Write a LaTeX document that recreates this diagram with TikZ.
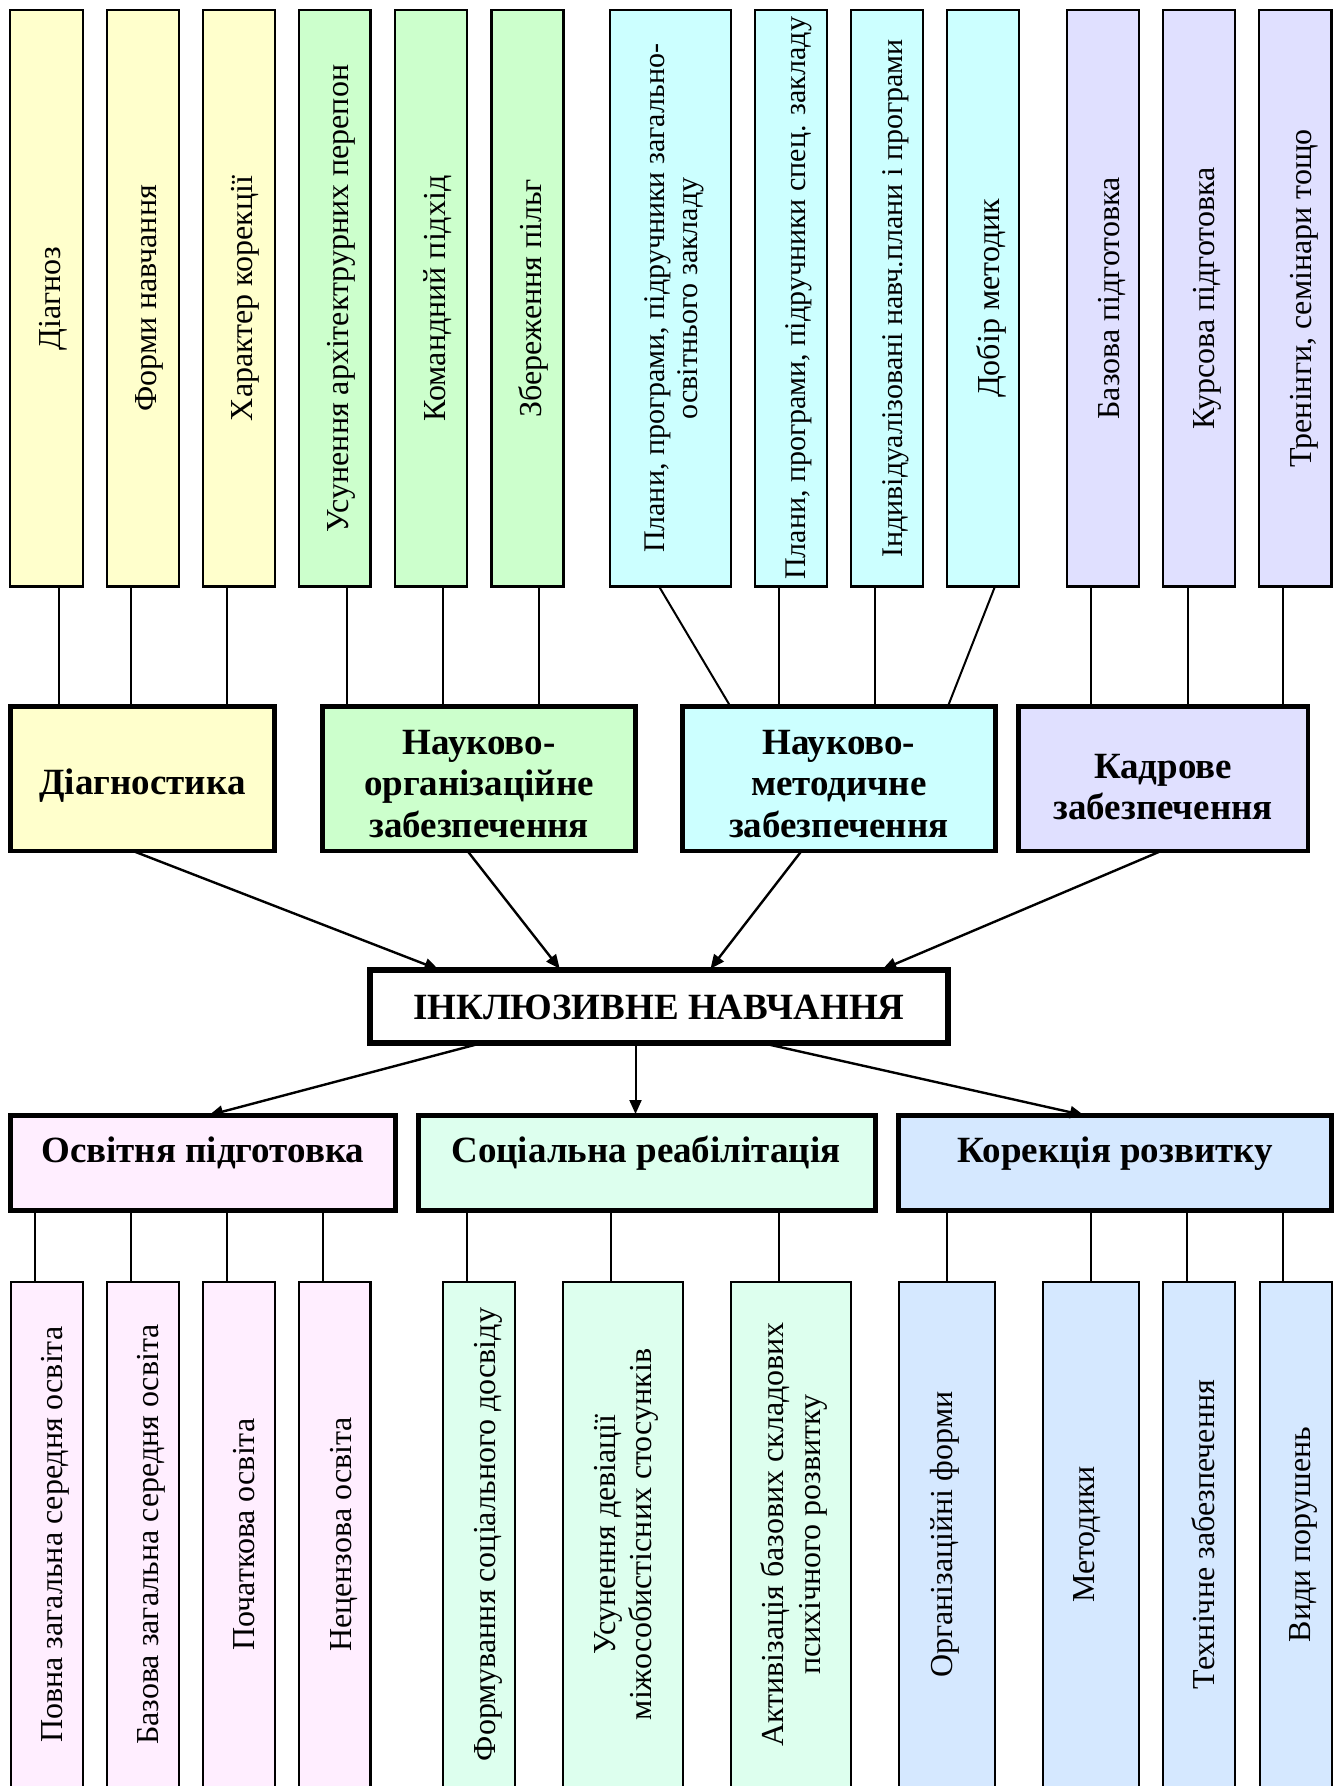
\documentclass[tikz,border=0pt]{standalone}
\usepackage{fontspec}
\setmainfont{Liberation Serif}
\usetikzlibrary{arrows.meta}
\definecolor{cYel}{HTML}{FFFFCC}
\definecolor{cGrn}{HTML}{CCFFCC}
\definecolor{cCyn}{HTML}{CCFFFF}
\definecolor{cLav}{HTML}{E0E0FF}
\definecolor{cPnk}{HTML}{FFEEFF}
\definecolor{cMnt}{HTML}{DDFFEE}
\definecolor{cBlu}{HTML}{D5E8FF}
\begin{document}
\begin{tikzpicture}[x=0.5pt,y=-0.5pt,
  thinbox/.style={draw=black, line width=1.1pt, inner sep=0pt, outer sep=0pt},
  topbox/.style={thinbox, minimum height=288pt},
  lowbox/.style={thinbox, minimum height=254.9pt},
  midbox/.style={draw=black, line width=2.4pt, inner sep=0pt, outer sep=0pt, minimum height=72.2pt},
  rowbox/.style={draw=black, line width=2.4pt, inner sep=0pt, outer sep=0pt, minimum height=47.4pt},
  vtxt/.style={rotate=90, inner sep=0pt, font=\fontsize{16}{18.3}\selectfont},
  vtxtb/.style={vtxt, anchor=base},
  vtxtc/.style={vtxt, anchor=center, align=center},
  vsmall/.style={font=\fontsize{15}{16.5}\selectfont},
  htxt/.style={inner sep=0pt, align=center, font=\fontsize{18.5}{20.85}\selectfont\bfseries},
  conn/.style={line width=1pt},
  arrw/.style={line width=1.2pt, shorten >=0.8pt, -{Triangle[length=7pt,width=6pt]}},
]
\fill[white] (0,0) rectangle (1337,1786);
\clip (0,0) rectangle (1337,1786);

% ---------- top row ----------
\node[topbox, fill=cYel, minimum width=36.15pt] (b1) at (46.5,298.4) {};
\node[topbox, fill=cYel, minimum width=36pt] (b2) at (142.7,298.4) {};
\node[topbox, fill=cYel, minimum width=36.15pt] (b3) at (238.9,298.4) {};
\node[topbox, fill=cGrn, minimum width=35.8pt] (b4) at (334.7,298.4) {};
\node[topbox, fill=cGrn, minimum width=36.15pt] (b5) at (431.1,298.4) {};
\node[topbox, fill=cGrn, minimum width=36pt] (b6) at (527.4,298.4) {};
\node[topbox, fill=cCyn, minimum width=60.4pt] (b7) at (670.7,298.4) {};
\node[topbox, fill=cCyn, minimum width=36.1pt] (b8) at (790.7,298.4) {};
\node[topbox, fill=cCyn, minimum width=36.2pt] (b9) at (887,298.4) {};
\node[topbox, fill=cCyn, minimum width=36.05pt] (b10) at (983,298.4) {};
\node[topbox, fill=cLav, minimum width=36.2pt] (b11) at (1103,298.4) {};
\node[topbox, fill=cLav, minimum width=36.2pt] (b12) at (1199,298.4) {};
\node[topbox, fill=cLav, minimum width=36.15pt] (b13) at (1295.3,298.4) {};

\node[vtxtb] (t1) at (60.5,298.4) {Діагноз};
\node[vtxtb] (t2) at (156.7,298.4) {Форми навчання};
\node[vtxtb] (t3) at (252.9,298.4) {Характер корекції};
\node[vtxtb] (t4) at (348.7,298.4) {Усунення архітектрурних перепон};
\node[vtxtb] (t5) at (445.1,298.4) {Командний підхід};
\node[vtxtb] (t6) at (541.4,298.4) {Збереження пільг};
\node[vtxtc, vsmall] (t7) at (674,298.4) {Плани, програми, підручники загально-\\освітнього закладу};
\node[vtxtb, vsmall] (t8) at (805.5,298.4) {Плани, програми, підручники спец. закладу};
\node[vtxtb, vsmall] (t9) at (902,298.4) {Індивідуалізовані навч.плани і програми};
\node[vtxtb] (t10) at (999,298.4) {Добір методик};
\node[vtxtb] (t11) at (1119,298.4) {Базова підготовка};
\node[vtxtb] (t12) at (1214,298.4) {Курсова підготовка};
\node[vtxtb] (t13) at (1311,298.4) {Тренінги, семінари тощо};

% ---------- middle row ----------
\node[midbox, fill=cYel, minimum width=132.25pt] (d) at (142.5,778.8) {};
\node[midbox, fill=cGrn, minimum width=156.5pt] (no) at (479,778.8) {};
\node[midbox, fill=cCyn, minimum width=156.4pt] (nm) at (838.8,778.8) {};
\node[midbox, fill=cLav, minimum width=144.85pt] (kd) at (1163.1,778.8) {};
\node[htxt, anchor=base] (td) at (142.5,794.2) {Діагностика};
\node[htxt] (tno) at (479,783.9) {Науково-\\організаційне\\забезпечення};
\node[htxt] (tnm) at (838.8,783.9) {Науково-\\методичне\\забезпечення};
\node[htxt] (tkd) at (1163.1,787.1) {Кадрове\\забезпечення};

% ---------- centre ----------
\node[draw=black, line width=3pt, fill=white, inner sep=0pt, outer sep=0pt,
      minimum width=288.9pt, minimum height=36.5pt] (c) at (658.9,1006.5) {};
\node[htxt, anchor=base] (tc) at (658.9,1019.4) {ІНКЛЮЗИВНЕ НАВЧАННЯ};

% ---------- second lower row ----------
\node[rowbox, fill=cPnk, minimum width=192.5pt] (os) at (202.8,1163) {};
\node[rowbox, fill=cMnt, minimum width=228.35pt] (so) at (647.2,1163) {};
\node[rowbox, fill=cBlu, minimum width=216.5pt] (ko) at (1115,1163) {};
\node[htxt, anchor=base] (tos) at (202.8,1162.5) {Освітня підготовка};
\node[htxt, anchor=base] (tso) at (646,1162.5) {Соціальна реабілітація};
\node[htxt, anchor=base] (tko) at (1115.3,1162.5) {Корекція розвитку};

% ---------- bottom row ----------
\node[lowbox, fill=cPnk, minimum width=36pt] (p1) at (46.6,1537.1) {};
\node[lowbox, fill=cPnk, minimum width=36pt] (p2) at (142.6,1537.1) {};
\node[lowbox, fill=cPnk, minimum width=36pt] (p3) at (238.6,1537.1) {};
\node[lowbox, fill=cPnk, minimum width=35.7pt] (p4) at (334.8,1537.1) {};
\node[lowbox, fill=cMnt, minimum width=35.7pt] (s1) at (479,1537.1) {};
\node[lowbox, fill=cMnt, minimum width=60pt] (s2) at (623,1537.1) {};
\node[lowbox, fill=cMnt, minimum width=60.3pt] (s3) at (791,1537.1) {};
\node[lowbox, fill=cBlu, minimum width=48.15pt] (k1) at (946.9,1537.1) {};
\node[lowbox, fill=cBlu, minimum width=48.2pt] (k2) at (1091,1537.1) {};
\node[lowbox, fill=cBlu, minimum width=36.2pt] (k3) at (1198.8,1537.1) {};
\node[lowbox, fill=cBlu, minimum width=36pt] (k4) at (1296.2,1537.1) {};

\node[vtxtb] (u1) at (62.5,1534.5) {Повна загальна середня освіта};
\node[vtxtb] (u2) at (158.5,1534.5) {Базова загальна середня освіта};
\node[vtxtb] (u3) at (254.5,1534.5) {Початкова освіта};
\node[vtxtb] (u4) at (351,1534.5) {Нецензова освіта};
\node[vtxtb] (u5) at (495.5,1534.5) {Формування соціального досвіду};
\node[vtxtc] (u6) at (626.4,1534.5) {Усунення девіації\\міжособистісних стосунків};
\node[vtxtc] (u7) at (794,1534.5) {Активізація базових складових\\психічного розвитку};
\node[vtxtb] (u8) at (952.3,1534.5) {Організаційні форми};
\node[vtxtb] (u9) at (1094.7,1534.5) {Методики};
\node[vtxtb] (u10) at (1214,1534.5) {Технічне забезпечення};
\node[vtxtb] (u11) at (1310.5,1534.5) {Види порушень};

% ---------- connectors top -> middle ----------
\coordinate (l1) at ([xshift=6pt]b1.south);
\coordinate (l2) at ([xshift=-6pt]b2.south);
\coordinate (l3) at ([xshift=-6pt]b3.south);
\coordinate (l4) at ([xshift=6pt]b4.south);
\coordinate (l5) at ([xshift=6pt]b5.south);
\coordinate (l6) at ([xshift=6pt]b6.south);
\coordinate (l8) at ([xshift=-5.7pt]b8.south);
\coordinate (l9) at ([xshift=-6pt]b9.south);
\coordinate (l11) at ([xshift=-5.8pt]b11.south);
\coordinate (l12) at ([xshift=-5.75pt]b12.south);
\coordinate (l13) at ([xshift=-6pt]b13.south);
\draw[conn] (l1) -- (l1 |- d.north);
\draw[conn] (l2) -- (l2 |- d.north);
\draw[conn] (l3) -- (l3 |- d.north);
\draw[conn] (l4) -- (l4 |- no.north);
\draw[conn] (l5) -- (l5 |- no.north);
\draw[conn] (l6) -- (l6 |- no.north);
\draw[conn] ([xshift=-5.85pt]b7.south) -- ([xshift=-54.15pt]nm.north);
\draw[conn] (l8) -- (l8 |- nm.north);
\draw[conn] (l9) -- (l9 |- nm.north);
\draw[conn] ([xshift=6pt]b10.south) -- ([xshift=54.5pt]nm.north);
\draw[conn] (l11) -- (l11 |- kd.north);
\draw[conn] (l12) -- (l12 |- kd.north);
\draw[conn] (l13) -- (l13 |- kd.north);

% ---------- arrows to / from centre ----------
\draw[arrw] ([xshift=-4.75pt]d.south) -- ([xshift=-109.5pt]c.north);
\draw[arrw] ([xshift=-5.75pt]no.south) -- ([xshift=-49.1pt]c.north);
\draw[arrw] ([xshift=-18.65pt]nm.south) -- ([xshift=25.3pt]c.north);
\draw[arrw] ([xshift=-1pt]kd.south) -- ([xshift=111pt]c.north);
\draw[arrw] ([xshift=-88.45pt]c.south) -- ([xshift=2.35pt]os.north);
\coordinate (v) at ([xshift=-5.85pt]so.north);
\draw[arrw, line width=1pt] (v |- c.south) -- (v);
\draw[arrw] ([xshift=51.5pt]c.south) -- ([xshift=-14.75pt]ko.north);

% ---------- connectors lower row -> bottom ----------
\coordinate (q1) at ([xshift=-6pt]p1.north);
\coordinate (q2) at ([xshift=-6pt]p2.north);
\coordinate (q3) at ([xshift=-6pt]p3.north);
\coordinate (q4) at ([xshift=-6pt]p4.north);
\coordinate (q5) at ([xshift=-6pt]s1.north);
\coordinate (q6) at ([xshift=-6pt]s2.north);
\coordinate (q7) at ([xshift=-5.85pt]s3.north);
\coordinate (q8) at (k1.north);
\coordinate (q9) at (k2.north);
\coordinate (q10) at ([xshift=-5.7pt]k3.north);
\coordinate (q11) at ([xshift=-6.5pt]k4.north);
\foreach \q in {q1,q2,q3,q4} \draw[conn] (\q) -- (\q |- os.south);
\foreach \q in {q5,q6,q7} \draw[conn] (\q) -- (\q |- so.south);
\foreach \q in {q8,q9,q10,q11} \draw[conn] (\q) -- (\q |- ko.south);
\end{tikzpicture}
\end{document}
